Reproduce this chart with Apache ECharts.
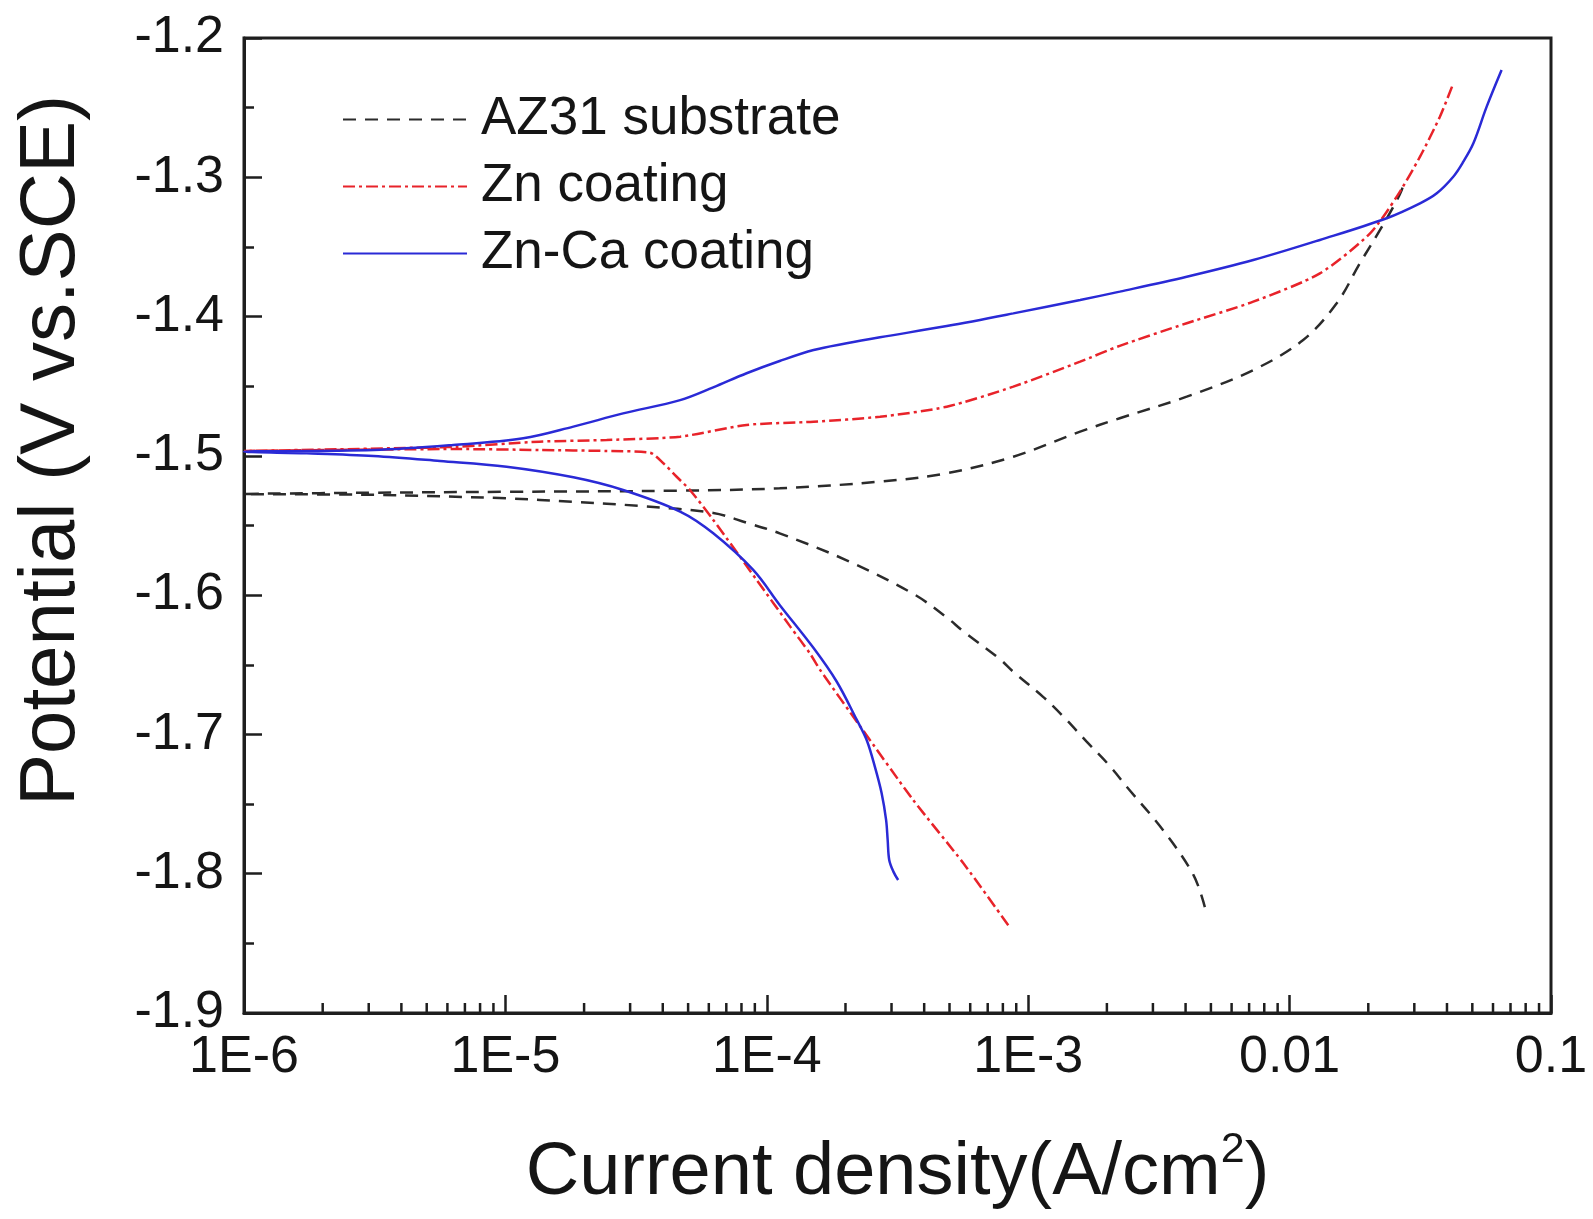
<!DOCTYPE html>
<html>
<head>
<meta charset="utf-8">
<script src="https://cdn.jsdelivr.net/npm/echarts@6/dist/echarts.min.js"></script>
<style>
  html, body { margin: 0; padding: 0; background: #fff; }
  #chart { width: 1593px; height: 1219px; }
</style>
</head>
<body>
<div id="chart"></div>
<script>
// ---- data (current density in A/cm2, potential in V vs. SCE) ----
const seriesNames = ['AZ31 substrate', 'Zn coating', 'Zn-Ca coating'];

// AZ31 substrate: cathodic branch (bottom -> Ecorr) then anodic branch
const az31Current = [
  4.74e-3, 4.29e-3, 3.29e-3, 2.38e-3, 2.06e-3, 1.67e-3, 1.36e-3, 1.14e-3, 8.77e-4, 7.8e-4,
  5.65e-4, 4.88e-4, 3.63e-4, 2.02e-4, 1.12e-4, 8.37e-5, 6.24e-5, 3.27e-5, 1.82e-5, 1.01e-5,
  3.16e-6, 1e-6,
  3e-6, 1e-5, 4.66e-5, 1.12e-4, 2.71e-4, 4.88e-4, 8.77e-4, 1.58e-3, 2.24e-3, 4.04e-3,
  7.26e-3, 1.127e-2, 1.514e-2, 1.858e-2, 2.218e-2, 2.495e-2, 2.685e-2, 2.75e-2
];
const az31Potential = [
  -1.824, -1.801, -1.769, -1.7375, -1.723, -1.705, -1.687, -1.673, -1.655, -1.646,
  -1.626, -1.616, -1.599, -1.575, -1.5556, -1.548, -1.541, -1.536, -1.533, -1.5305,
  -1.528, -1.5274,
  -1.5265, -1.5258, -1.525, -1.5233, -1.5185, -1.5125, -1.5006, -1.4826, -1.473, -1.4575,
  -1.4384, -1.4168, -1.3905, -1.3617, -1.3378, -1.3211, -1.3091, -1.302
];

// Zn coating
const znCurrent = [
  8.39e-4, 5.65e-4, 3.63e-4, 2.28e-4, 1.6e-4, 1.46e-4, 1.23e-4, 9.14e-5, 6.24e-5, 5.08e-5,
  4.52e-5, 4.02e-5, 3.57e-5, 2.44e-5, 1.35e-5, 6.5e-6, 1e-6,
  6.5e-6, 1.35e-5, 2.44e-5, 4.66e-5, 8.37e-5, 1.51e-4, 2.71e-4, 4.88e-4, 8.77e-4,
  1.58e-3, 2.24e-3, 4.04e-3, 7.26e-3, 1.306e-2, 2.032e-2, 2.57e-2, 3.155e-2, 3.758e-2, 4.207e-2
];
const znPotential = [
  -1.837, -1.7925, -1.747, -1.6944, -1.6537, -1.6417, -1.6226, -1.589, -1.546, -1.5245,
  -1.515, -1.5053, -1.4977, -1.4965, -1.4958, -1.4951, -1.4965,
  -1.4934, -1.4898, -1.4886, -1.4862, -1.4778, -1.4755, -1.4719, -1.4647, -1.4503,
  -1.4324, -1.421, -1.4048, -1.3893, -1.369, -1.3402, -1.3139, -1.2852, -1.2565, -1.2337
];

// Zn-Ca coating
const znCaCurrent = [
  3.18e-4, 3.05e-4, 2.94e-4, 2.90e-4, 2.86e-4, 2.75e-4, 2.59e-4, 2.41e-4, 2.21e-4, 1.85e-4,
  1.51e-4, 1.12e-4, 8.87e-5, 6.24e-5, 4.66e-5, 2.82e-5, 1.82e-5, 1.01e-5, 5.62e-6, 3.13e-6,
  1.74e-6, 1e-6,
  3.13e-6, 6.32e-6, 1.17e-5, 1.82e-5, 2.82e-5, 4.66e-5, 6.24e-5, 8.37e-5, 1.12e-4, 1.51e-4,
  2.02e-4, 2.71e-4, 4.88e-4, 8.77e-4, 1.58e-3, 2.24e-3, 4.04e-3, 7.26e-3, 1.306e-2, 2.352e-2,
  3.155e-2, 3.656e-2, 4.227e-2, 4.62e-2, 5.047e-2, 5.675e-2, 6.471e-2
];
const znCaPotential = [
  -1.8045, -1.7985, -1.7901, -1.7758, -1.7614, -1.7422, -1.7231, -1.704, -1.6896, -1.662,
  -1.638, -1.607, -1.5819, -1.5556, -1.540, -1.5245, -1.5154, -1.5078, -1.5037, -1.5001,
  -1.4982, -1.497,
  -1.4958, -1.4922, -1.4874, -1.479, -1.4695, -1.460, -1.4508, -1.4407, -1.4319, -1.424,
  -1.4192, -1.4149, -1.4068, -1.3977, -1.3881, -1.3821, -1.3714, -1.3594, -1.345, -1.3294,
  -1.3187, -1.3115, -1.2996, -1.2888, -1.2756, -1.2493, -1.223
];

// axis ticks
const xTickLabels = ['1E-6', '1E-5', '1E-4', '1E-3', '0.01', '0.1'];
const xMinorMultipliers = [2, 3, 4, 5, 6, 7, 8, 9];
const xDecades = [1e-6, 1e-5, 1e-4, 1e-3, 1e-2];
const yMin = -1.9, yMax = -1.2, yStep = 0.1;

// ---- build ----
function pairs(xs, ys) { return xs.map((x, i) => [x, ys[i]]); }
const minorTickData = [];
xDecades.forEach(d => xMinorMultipliers.forEach(m => minorTickData.push([m * d, yMin])));

const axisColor = '#1e1e1e';
const textColor = '#151515';
const FONT = '"Liberation Sans", Arial, sans-serif';

const chart = echarts.init(document.getElementById('chart'), null, { renderer: 'canvas' });
chart.setOption({
  animation: false,
  backgroundColor: '#ffffff',
  grid: {
    left: 244, right: 42, top: 38, bottom: 206,
    outerBoundsMode: 'none', containLabel: false,
    show: true, borderColor: axisColor, borderWidth: 3, backgroundColor: 'transparent'
  },
  legend: {
    data: seriesNames,
    orient: 'vertical',
    left: 337, top: 88,
    itemWidth: 124, itemHeight: 20, itemGap: 14,
    itemStyle: { opacity: 0 },
    textStyle: { fontFamily: FONT, fontSize: 53, color: textColor, padding: [0, 0, 0, 9] },
    selectedMode: false
  },
  xAxis: {
    type: 'log', logBase: 10, min: 1e-6, max: 0.1,
    splitLine: { show: false },
    axisLine: { show: true, lineStyle: { color: axisColor, width: 3 } },
    axisTick: { show: true, inside: true, length: 18, lineStyle: { color: axisColor, width: 2.5 } },
    minorTick: { show: false },
    axisLabel: {
      margin: 19, fontFamily: FONT, fontSize: 52, color: textColor,
      formatter: v => xTickLabels[Math.round(Math.log10(v)) + 6]
    },
    name: 'Current density(A/cm{sup|2})',
    nameLocation: 'middle',
    nameGap: 116,
    nameTextStyle: {
      fontFamily: FONT, fontSize: 74, lineHeight: 90, color: textColor,
      rich: {
        sup: { fontFamily: FONT, fontSize: 43, lineHeight: 20, verticalAlign: 'top', color: textColor }
      }
    }
  },
  yAxis: {
    type: 'value', min: yMin, max: yMax, interval: yStep,
    splitLine: { show: false },
    axisLine: { show: true, lineStyle: { color: axisColor, width: 3 } },
    axisTick: { show: true, inside: true, length: 18, lineStyle: { color: axisColor, width: 2.5 } },
    minorTick: { show: true, splitNumber: 2, length: 10, lineStyle: { color: axisColor, width: 2.5 } },
    axisLabel: {
      margin: 20, fontFamily: FONT, fontSize: 52, color: textColor,
      formatter: v => v.toFixed(1)
    },
    name: 'Potential (V vs.SCE)',
    nameLocation: 'middle',
    nameGap: 153,
    nameTextStyle: { fontFamily: FONT, fontSize: 78, color: textColor, padding: [0, 0, 0, 150] }
  },
  series: [
    {
      name: seriesNames[0], type: 'line', data: pairs(az31Current, az31Potential),
      symbol: 'none', smooth: 0.35, clip: true,
      lineStyle: { color: '#2b2b2b', width: 2.5, type: [13, 9] },
      itemStyle: { color: '#2b2b2b' }, z: 3
    },
    {
      name: seriesNames[1], type: 'line', data: pairs(znCurrent, znPotential),
      symbol: 'none', smooth: 0.25, clip: true,
      lineStyle: { color: '#e8232a', width: 2.5, type: [12, 4, 3, 4] },
      itemStyle: { color: '#e8232a' }, z: 4
    },
    {
      name: seriesNames[2], type: 'line', data: pairs(znCaCurrent, znCaPotential),
      symbol: 'none', smooth: 0.35, clip: true,
      lineStyle: { color: '#2a2ad6', width: 2.5, type: 'solid' },
      itemStyle: { color: '#2a2ad6' }, z: 5
    },
    {
      name: 'minorTicks', type: 'custom', data: minorTickData, silent: true, clip: false, z: 10,
      encode: { x: 0, y: 1 },
      renderItem: function (params, api) {
        const p = api.coord([api.value(0), api.value(1)]);
        return {
          type: 'line',
          shape: { x1: p[0], y1: p[1], x2: p[0], y2: p[1] - 10 },
          style: { stroke: axisColor, lineWidth: 2.5 }
        };
      }
    }
  ]
});
</script>
</body>
</html>
